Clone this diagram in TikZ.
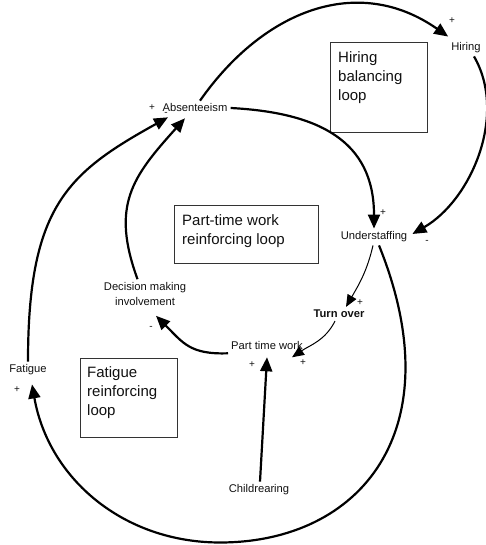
\documentclass[tikz,border=0pt]{standalone}
\usepackage{fontspec}
\setmainfont{Liberation Sans}
\usepackage{xcolor}
\usepackage{tikz}
\usetikzlibrary{arrows.meta}
\definecolor{cInk}{HTML}{111111}
\definecolor{cBox}{HTML}{333333}
\tikzset{
  var/.style      = {inner sep=3pt, align=center, text=cInk,
                     font=\fontsize{11.2}{15}\selectfont},
  pol/.style      = {inner sep=0pt, text=cInk, font=\fontsize{10}{10}\selectfont},
  loopbox/.style  = {draw=cBox, line width=0.8pt, anchor=north west, inner sep=0pt},
  looptext/.style = {anchor=north west, inner sep=0pt, align=left, text=cInk,
                     font=\fontsize{15}{19}\selectfont},
  link/.style     = {draw=black, line width=2.2pt, -{Triangle[length=14pt,width=12pt]}},
  thinlink/.style = {draw=black, line width=1pt, -{Triangle[length=12pt,width=10pt]}},
}

\begin{document}
\begin{tikzpicture}[x=1pt, y=1pt]
  \useasboundingbox (0,0) rectangle (486,545);
  % variables
  \node[var] (abs) at (195,437) {Absenteeism};
  \node[var] (hir) at (466,497) {Hiring};
  \node[var] (und) at (374,308) {Understaffing};
  \node[var, font=\fontsize{11.2}{15}\selectfont\bfseries] (tur) at (339,231) {Turn over};
  \node[var] (ptw) at (267,199) {Part time work};
  \node[var] (dmi) at (145,251) {Decision making\\involvement};
  \node[var] (fat) at (28,175) {Fatigue};
  \node[var] (chi) at (259,55) {Childrearing};
  \coordinate (loopbot) at (220,2.5);
  % loop boxes
  \node[loopbox, minimum width=97, minimum height=90,
        label={[looptext, xshift=8pt, yshift=-9pt]north west:Hiring\\balancing\\loop}]
        (hbox) at (330,503) {};
  \node[loopbox, minimum width=144, minimum height=58,
        label={[looptext, xshift=8pt, yshift=-9pt]north west:Part-time work\\reinforcing loop}]
        (pbox) at (174,340) {};
  \node[loopbox, minimum width=97, minimum height=79,
        label={[looptext, xshift=7pt, yshift=-8pt]north west:Fatigue\\reinforcing\\loop}]
        (fbox) at (80,187) {};
  % links
  \draw[link] ([xshift=5pt]abs.north) to[out=55, in=145, looseness=1.1]
    ([yshift=3pt]hir.north west);
  \draw[link] ([xshift=8pt]hir.south) to[out=-60, in=30, looseness=0.92]
    ([xshift=2pt,yshift=3pt]und.east);
  \draw[link] (abs.east) to[out=-3, in=90, looseness=1.2] (und.north);
  \draw[thinlink] ([xshift=-1pt]und.south) to[out=-103, in=60]
    ([xshift=7pt]tur.north);
  \draw[thinlink] ([xshift=-4pt]tur.south) to[out=-117, in=34]
    ([xshift=25pt,yshift=-4pt]ptw.south);
  \draw[link] (ptw.south west) to[out=182, in=-45, looseness=1.2]
    ([xshift=11pt,yshift=-7pt]dmi.south);
  \draw[link] ([xshift=-7.5pt]dmi.north) to[out=110, in=228, looseness=1.2]
    ([xshift=-10pt,yshift=-3pt]abs.south);
  \draw[link] ([xshift=5pt]und.south) .. controls +(-68:200) and +(0:140) .. (loopbot)
    to[out=180, in=-80] ([xshift=4pt,yshift=-6pt]fat.south);
  \draw[link] (fat.north) .. controls +(90:155) and +(209:115) ..
    ([xshift=-27pt,yshift=-2pt]abs.south);
  \draw[link] ([xshift=1pt]chi.north) -- ([yshift=-4pt]ptw.south);
  % polarities
  \node[pol] at (152,437) {+};
  \node[pol] at (166,431) {-};
  \node[pol] at (452,524) {+};
  \node[pol] at (383,332) {+};
  \node[pol] at (427,303) {-};
  \node[pol] at (360,242) {+};
  \node[pol] at (252,180) {+};
  \node[pol] at (303,182) {+};
  \node[pol] at (151,217) {-};
  \node[pol] at (17,155) {+};
\end{tikzpicture}
\end{document}
